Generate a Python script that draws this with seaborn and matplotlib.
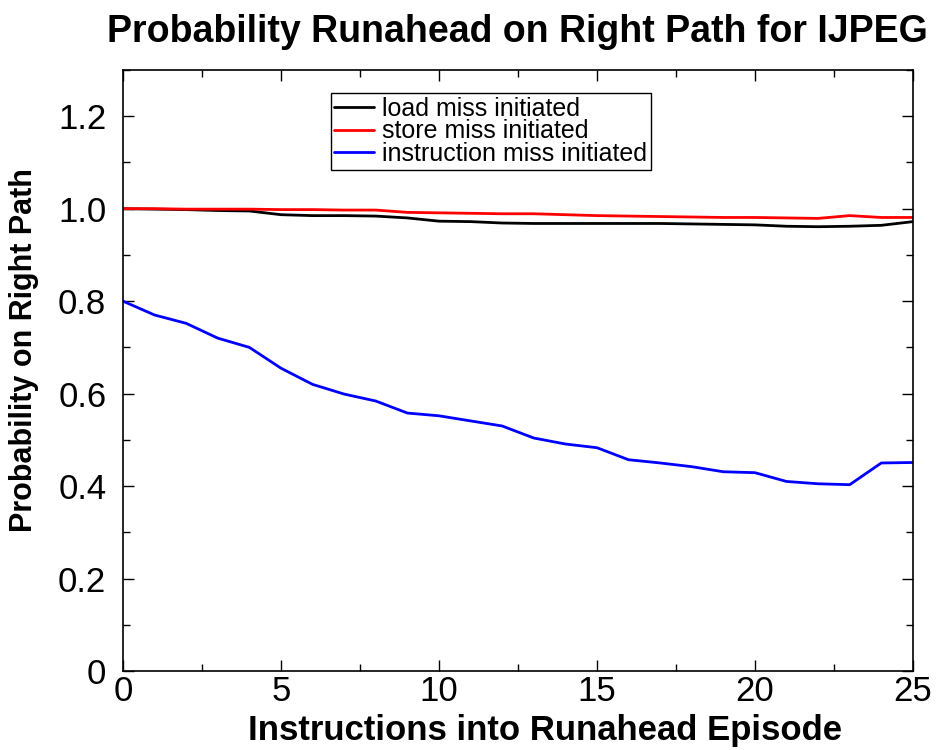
import numpy as np
import pandas as pd
import matplotlib
matplotlib.use("Agg")
import matplotlib.pyplot as plt
import seaborn as sns
from matplotlib.ticker import MultipleLocator

instrucciones = list(range(26))
load_miss = [1.000, 0.999, 0.998, 0.996, 0.995, 0.987, 0.985, 0.985, 0.984, 0.980,
             0.973, 0.972, 0.969, 0.968, 0.968, 0.968, 0.968, 0.968, 0.967, 0.966,
             0.965, 0.962, 0.961, 0.962, 0.964, 0.972]
store_miss = [1.000, 1.000, 0.999, 0.999, 0.999, 0.998, 0.998, 0.997, 0.997, 0.992,
              0.991, 0.990, 0.989, 0.989, 0.987, 0.985, 0.984, 0.983, 0.982, 0.981,
              0.981, 0.980, 0.979, 0.985, 0.981, 0.981]
instr_miss = [0.800, 0.770, 0.752, 0.720, 0.700, 0.655, 0.620, 0.599, 0.584, 0.558,
              0.552, 0.541, 0.530, 0.504, 0.491, 0.483, 0.457, 0.450, 0.442, 0.431,
              0.429, 0.410, 0.405, 0.403, 0.450, 0.451]
etiquetas = ["load miss initiated", "store miss initiated", "instruction miss initiated"]
colores = ["black", "red", "blue"]

df = pd.DataFrame({
    "x": instrucciones * 3,
    "prob": load_miss + store_miss + instr_miss,
    "serie": [etiquetas[0]] * 26 + [etiquetas[1]] * 26 + [etiquetas[2]] * 26,
})

sns.set_style("ticks")
plt.rcParams['font.family'] = ['Liberation Sans', 'DejaVu Sans']
plt.rcParams['text.color'] = 'black'
plt.rcParams['axes.labelcolor'] = 'black'
plt.rcParams['xtick.color'] = 'black'
plt.rcParams['ytick.color'] = 'black'
plt.rcParams['axes.edgecolor'] = 'black'

fig = plt.figure(figsize=(9.46, 7.5), dpi=100)
ax = fig.add_axes([0.130, 0.1053, 0.835, 0.8014])
sns.lineplot(data=df, x="x", y="prob", hue="serie", palette=colores,
             hue_order=etiquetas, linewidth=2, ax=ax)

ax.set_xlim(0, 25)
ax.set_ylim(0, 1.3)
ax.xaxis.set_major_locator(MultipleLocator(5))
ax.xaxis.set_minor_locator(MultipleLocator(2.5))
ax.yaxis.set_minor_locator(MultipleLocator(0.1))
ax.set_yticks([0, 0.2, 0.4, 0.6, 0.8, 1.0, 1.2])
ax.set_yticklabels(["0", "0.2", "0.4", "0.6", "0.8", "1.0", "1.2"])
ax.tick_params(which='both', direction='in', top=True, right=True, labelsize=25, width=1)
ax.tick_params(axis='y', pad=12)
ax.tick_params(axis='x', pad=3)
ax.tick_params(which='major', length=8)
ax.tick_params(which='minor', length=5)
for s in ax.spines.values():
    s.set_linewidth(1.2)

ax.set_title('Probability Runahead on Right Path for IJPEG', fontsize=27, fontweight='bold', pad=20)
ax.set_xlabel('Instructions into Runahead Episode', fontsize=25, fontweight='bold')
ax.xaxis.set_label_coords(0.534, -0.071)
ax.set_ylabel('Probability on Right Path', fontsize=22, fontweight='bold')
ax.yaxis.set_label_coords(-0.106, 0.534)

leg = ax.legend(loc='upper left', bbox_to_anchor=(0.263, 0.962), fontsize=18,
                labelspacing=-0.05, handlelength=1.6, handletextpad=0.3,
                borderpad=0.15, borderaxespad=0, fancybox=False, framealpha=1,
                edgecolor='black')
leg.get_frame().set_linewidth(1)

plt.savefig("out.png", dpi=100)
